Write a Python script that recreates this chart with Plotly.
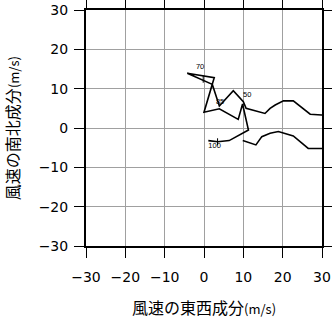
import plotly.graph_objects as go

# Hodograph: east-west (u) and north-south (v) wind components, m/s
u = [1.1, 3.5, 6.4, 11.3, 9.8, 8.7, 3.9, 0.0, 2.1, -4.25, 2.6, 2.1, 3.9, 7.45, 10.0,
     10.7, 15.5, 16.8, 18.1, 20.2, 22.7, 27.0, 29.9, 35.0, 40.0, 35.0,
     29.9, 26.5, 22.7, 18.9, 16.8, 14.7, 13.2, 9.85]
v = [-3.2, -3.5, -3.2, -0.5, 6.1, 2.2, 4.9, 4.0, 11.1, 13.9, 12.8, 11.1, 5.6, 9.5, 6.7,
     5.0, 3.7, 5.0, 5.85, 6.9, 6.9, 3.5, 3.3, 3.2, -1.0, -5.2,
     -5.2, -5.2, -2.0, -0.9, -1.35, -2.2, -4.3, -3.2]

# Level labels along the curve
lab_text = ["100", "85", "70", "50"]
lab_u = [2.7, 4.1, -1.0, 11.0]
lab_v = [-4.6, 6.5, 15.5, 8.3]
tick_u = [3.45, -0.2]
tick_v = [-3.5, 12.4]

xticks = [-30, -20, -10, 0, 10, 20, 30]
yticks = [-30, -20, -10, 0, 10, 20, 30]

fig = go.Figure()
fig.add_trace(go.Scatter(x=u, y=v, mode="lines",
                         line=dict(color="black", width=1.6), hoverinfo="skip"))
fig.add_trace(go.Scatter(x=tick_u, y=tick_v, mode="markers",
                         marker=dict(symbol="line-ns", size=5, color="black",
                                     line=dict(color="black", width=1)),
                         hoverinfo="skip"))
fig.add_trace(go.Scatter(x=lab_u, y=lab_v, mode="text", text=lab_text,
                         textfont=dict(family="Liberation Sans", size=7.5, color="#000000"),
                         hoverinfo="skip"))

axis_common = dict(
    range=[-30, 30], ticks="outside", ticklen=10, tickwidth=1, automargin=False,
    tickcolor="black", showline=True, linecolor="black", linewidth=2, mirror="ticks",
    showgrid=True, gridcolor="#a0a0a0", gridwidth=1, zeroline=False,
    tickfont=dict(family="DejaVu Sans", size=14, color="black"),
)
fig.update_xaxes(**axis_common, tickvals=xticks, ticklabelstandoff=7)
fig.update_yaxes(**axis_common, tickvals=yticks, ticklabelstandoff=3)

fig.update_layout(
    width=332, height=319,
    margin=dict(l=86, r=10, t=10, b=73),
    paper_bgcolor="white", plot_bgcolor="white",
    showlegend=False,
    annotations=[
        dict(text='風速の東西成分<span style="font-size:13px">(m/s)</span>',
             xref="paper", yref="paper", x=0.5, y=-0.258, showarrow=False,
             xanchor="center", yanchor="middle",
             font=dict(family="Noto Sans CJK JP", size=16, color="black")),
        dict(text='風速の南北成分<span style="font-size:13px">(m/s)</span>',
             xref="paper", yref="paper", x=-0.313, y=0.5, showarrow=False,
             xanchor="center", yanchor="middle", textangle=-90,
             font=dict(family="Noto Sans CJK JP", size=16, color="black")),
    ],
)

fig.write_html("out.html")
